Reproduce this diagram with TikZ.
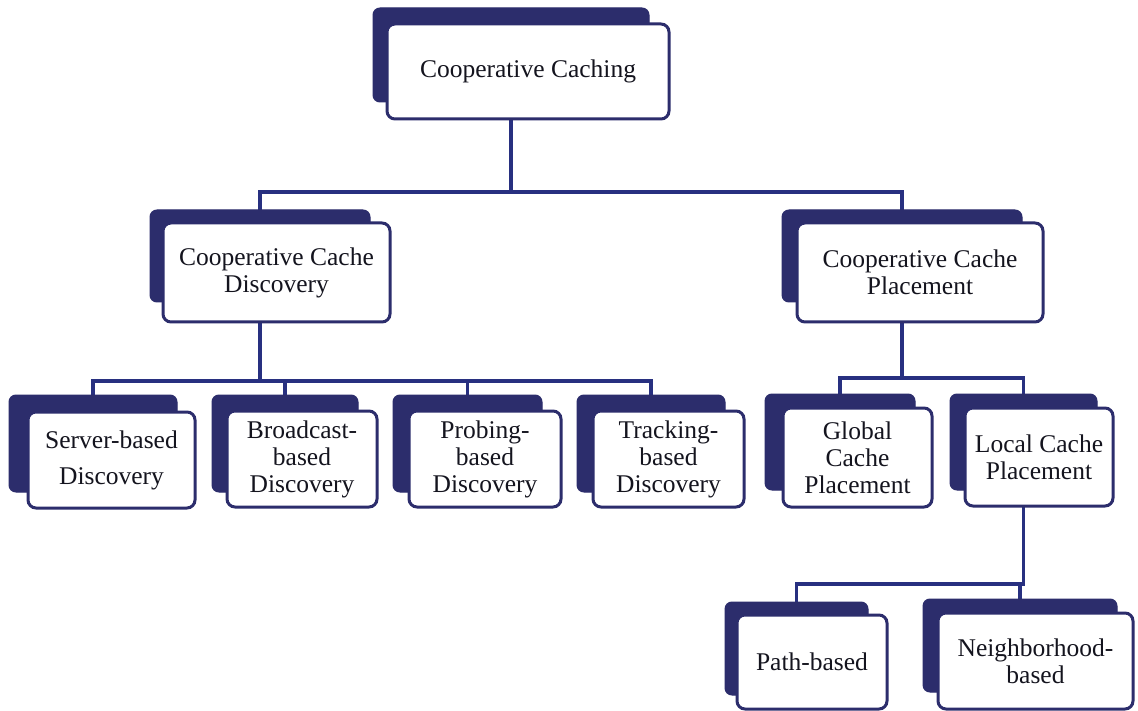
\documentclass[tikz,border=0pt]{standalone}
\usepackage{fontspec}
\setmainfont{Liberation Serif}
\usetikzlibrary{backgrounds}
\definecolor{navy}{RGB}{44,45,108}
\definecolor{linkc}{RGB}{40,48,128}
\definecolor{txt}{RGB}{20,20,30}
\begin{document}
\begin{tikzpicture}[x=1pt,y=-1pt,
  sz/.style 2 args={minimum width=#1pt, minimum height=#2pt},
  shadowbox/.style={fill=navy, draw=navy, rounded corners=7pt, inner sep=0pt, line width=1pt},
  frontbox/.style={fill=white, draw=navy, line width=3pt, rounded corners=8pt, inner sep=0pt,
    align=center, font=\fontsize{25.5}{27}\selectfont, text=txt},
  link/.style={draw=linkc, line width=3.2pt}]
\useasboundingbox (0,0) rectangle (1138,711);

% level 1
\node[shadowbox, sz={276}{94}] (cc-s) at (511,55) {};
\node[frontbox, sz={282}{95}] (cc) at (528,71.5) {Cooperative Caching};

% level 2
\node[shadowbox, sz={220}{92}] (ccd-s) at (260,256) {};
\node[frontbox, sz={227}{99}] (ccd) at (276.5,272.5) {Cooperative Cache\\Discovery};
\node[shadowbox, sz={240}{92}] (ccp-s) at (902,256) {};
\node[frontbox, sz={246}{99}] (ccp) at (920,272.5) {Cooperative Cache\\Placement};

% level 3 left
\node[shadowbox, sz={168}{97}] (srv-s) at (93,443.5) {};
\node[frontbox, sz={167}{96}] (srv) at (111.5,460) {Server-based\\[9pt]Discovery};
\node[shadowbox, sz={146}{97}] (brd-s) at (285,443.5) {};
\node[frontbox, sz={150}{96}] (brd) at (302,459) {Broadcast-\\based\\Discovery};
\node[shadowbox, sz={149}{97}] (prb-s) at (467.5,443.5) {};
\node[frontbox, sz={152}{96}] (prb) at (485,459) {Probing-\\based\\Discovery};
\node[shadowbox, sz={148}{97}] (trk-s) at (651,443.5) {};
\node[frontbox, sz={151}{96}] (trk) at (668.5,459) {Tracking-\\based\\Discovery};

% level 3 right
\node[shadowbox, sz={150}{96}] (glb-s) at (840,442) {};
\node[frontbox, sz={149}{99}] (glb) at (857.5,457.5) {Global\\Cache\\Placement};
\node[shadowbox, sz={147}{96}] (lcp-s) at (1023.5,442) {};
\node[frontbox, sz={148}{98}] (lcp) at (1039,457) {Local Cache\\Placement};

% level 4
\node[shadowbox, sz={143}{93}] (pth-s) at (796.5,648.5) {};
\node[frontbox, sz={150}{94}] (pth) at (812,662) {Path-based};
\node[shadowbox, sz={194}{93}] (nbh-s) at (1020,645.5) {};
\node[frontbox, sz={195}{96}] (nbh) at (1035.5,661) {Neighborhood-\\based};

\coordinate (bus1) at (0,192);
\coordinate (bus2) at (0,381);
\coordinate (bus3) at (0,378);
\coordinate (bus4) at (0,584);

\begin{scope}[on background layer]
  \fill[white] (0,0) rectangle (1138,711);
  \draw[link] (ccd-s.center) -- (ccd-s |- bus1) -- (ccp-s |- bus1) -- (ccp-s.center);
  \draw[link] (cc-s.center) -- (cc-s |- bus1);
  \draw[link] (srv-s.center) -- (srv-s |- bus2) -- (trk-s |- bus2) -- (trk-s.center);
  \draw[link] (ccd-s.center) -- (ccd-s |- bus2);
  \draw[link] (brd-s.center) -- (brd-s |- bus2);
  \draw[link] (prb-s.center) -- (prb-s |- bus2);
  \draw[link] (glb-s.center) -- (glb-s |- bus3) -- (lcp-s |- bus3) -- (lcp-s.center);
  \draw[link] (ccp-s.center) -- (ccp-s |- bus3);
  \draw[link] (pth-s.center) -- (pth-s |- bus4) -- (lcp-s |- bus4) -- (lcp-s.center);
  \draw[link] (nbh-s.center) -- (nbh-s |- bus4);
\end{scope}
\end{tikzpicture}
\end{document}
